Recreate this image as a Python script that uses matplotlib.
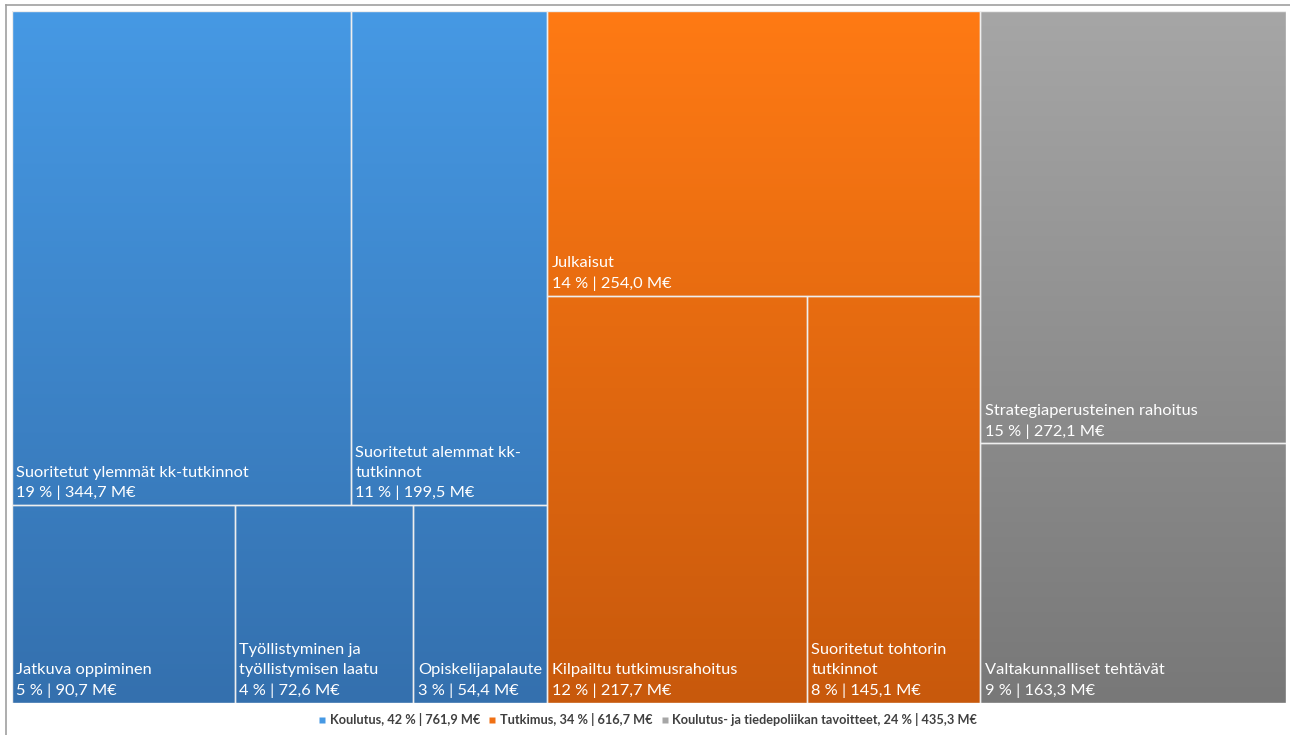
import numpy as np
import matplotlib
matplotlib.use("Agg")
import matplotlib.pyplot as plt
from matplotlib.lines import Line2D
from matplotlib.patches import Rectangle
from matplotlib.colors import to_rgb

# ---- data ----
groups = ["Koulutus", "Tutkimus", "Koulutus- ja tiedepoliikan tavoitteet"]
group_pct = [42, 34, 24]
group_values = [761.9, 616.7, 435.3]

# rows of each group (top row first)
koulutus_rows = [
    [("Suoritetut ylemmät kk-tutkinnot", 19, 344.7), ("Suoritetut alemmat kk-\ntutkinnot", 11, 199.5)],
    [("Jatkuva oppiminen", 5, 90.7), ("Työllistyminen ja\ntyöllistymisen laatu", 4, 72.6), ("Opiskelijapalaute", 3, 54.4)],
]
tutkimus_rows = [
    [("Julkaisut", 14, 254.0)],
    [("Kilpailtu tutkimusrahoitus", 12, 217.7), ("Suoritetut tohtorin\ntutkinnot", 8, 145.1)],
]
tavoitteet_rows = [
    [("Strategiaperusteinen rahoitus", 15, 272.1)],
    [("Valtakunnalliset tehtävät", 9, 163.3)],
]
group_rows = [koulutus_rows, tutkimus_rows, tavoitteet_rows]

top_colors = ["#4699E4", "#FF7A14", "#A6A6A6"]
bottom_colors = ["#3470AE", "#C8590C", "#787878"]
legend_colors = ["#4699E4", "#F07014", "#A6A6A6"]

def fmt(v):
    return f"{v:.1f}".replace(".", ",")

W, H = 1290, 735
fig = plt.figure(figsize=(W / 100, H / 100), dpi=100)
ax = fig.add_axes([12 / W, (735 - 703) / H, 1274 / W, 692 / H])
ax.set_xlim(0, 1)
ax.set_ylim(0, 1)
ax.axis("off")

total = sum(group_values)
x0 = 0.0
for gi, rows in enumerate(group_rows):
    gw = group_values[gi] / total
    gsum = sum(v for row in rows for (_, _, v) in row)
    ytop = 1.0
    ct = np.array(to_rgb(top_colors[gi]))
    cb = np.array(to_rgb(bottom_colors[gi]))
    for row in rows:
        rsum = sum(v for (_, _, v) in row)
        rh = rsum / gsum
        ybot = ytop - rh
        xx = x0
        for (name, pct, v) in row:
            w = gw * v / rsum
            ys = np.linspace(ytop, ybot, 200)
            cols = cb[None, :] + (ct - cb)[None, :] * ys[:, None]
            img = np.repeat(cols[:, None, :], 2, axis=1)
            ax.imshow(img, extent=[xx, xx + w, ybot, ytop], aspect="auto",
                      interpolation="bilinear", zorder=1)
            ax.add_patch(Rectangle((xx, ybot), w, rh, fill=False,
                                   edgecolor="#eeeeee", linewidth=1.0, zorder=2))
            ax.text(xx + 0.0035, ybot + 0.007, f"{name}\n{pct} % | {fmt(v)} M€",
                    color="white", fontsize=11.8, family="Lato",
                    ha="left", va="bottom", linespacing=1.55, zorder=3)
            xx += w
        ytop = ybot
    x0 += gw

ax.set_xlim(0, 1)
ax.set_ylim(0, 1)

# frame lines (top and left)
fig.add_artist(Line2D([6 / W, 1], [1 - 5 / H, 1 - 5 / H], color="#a0a0a0", lw=1.2))
fig.add_artist(Line2D([6 / W, 6 / W], [0, 1 - 5 / H], color="#a0a0a0", lw=1.2))

# legend
handles = [Line2D([], [], marker="s", linestyle="", markersize=5,
                  markerfacecolor=legend_colors[i], markeredgecolor="none") for i in range(3)]
labels = [f"{g}, {p} % | {fmt(v)} M€" for g, p, v in zip(groups, group_pct, group_values)]
fig.legend(handles, labels, loc="center", bbox_to_anchor=(648 / W, 1 - 720 / H),
           ncol=3, frameon=False, handlelength=0.5, handletextpad=0.35,
           columnspacing=0.7, prop={"family": "Lato", "weight": "bold", "size": 9.2},
           labelcolor="#404040")

fig.savefig("out.png", dpi=100)
